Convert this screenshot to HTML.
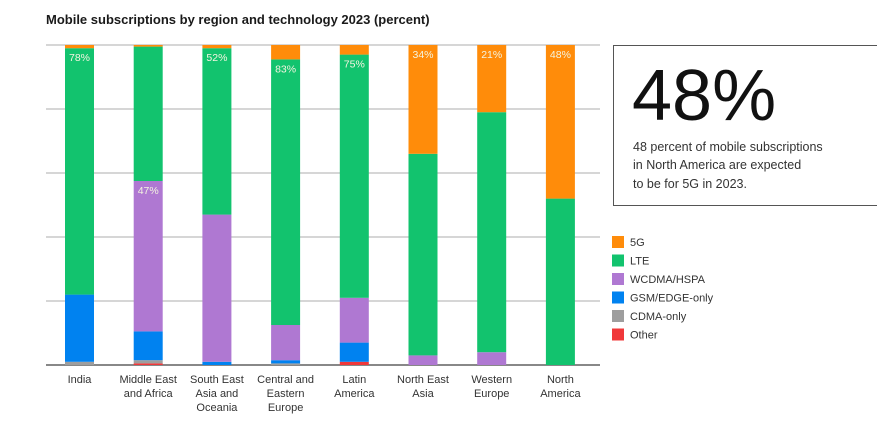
<!DOCTYPE html>
<html><head><meta charset="utf-8"><style>
body{margin:0;background:#fff;font-family:"Liberation Sans",sans-serif;}
</style></head><body>
<svg width="877" height="439" style="display:block">
<text x="46" y="24" font-size="13" font-weight="bold" fill="#1a1a1a">Mobile subscriptions by region and technology 2023 (percent)</text>
<g id="grid"></g><g id="bars"></g><g id="xl"></g>
<rect x="613.5" y="45.5" width="270" height="160" fill="none" stroke="#555" stroke-width="1"/>
<text x="632" y="120" font-size="72" fill="#111">48%</text>
<text font-size="12.5" fill="#333"><tspan x="633" y="151">48 percent of mobile subscriptions</tspan><tspan x="633" y="169">in North America are expected</tspan><tspan x="633" y="188">to be for 5G in 2023.</tspan></text>
<g id="legend"></g>
</svg>
<script>
const categories=[["India"],["Middle East","and Africa"],["South East","Asia and","Oceania"],["Central and","Eastern","Europe"],["Latin","America"],["North East","Asia"],["Western","Europe"],["North","America"]];
const other=[0,0.5,0,0,1,0,0,0];
const cdma=[1,1,0,0.5,0,0,0,0];
const gsm=[21,9,1,1,6,0,0,0];
const wcdma=[0,47,46,11,14,3,4,0];
const lte=[77,42,52,83,76,63,75,52];
const g5=[1,0.5,1,4.5,3,34,21,48];
const labels=["78%","47%","52%","83%","75%","34%","21%","48%"];
const labelSeries=[4,3,4,4,4,5,5,5];
const series=[other,cdma,gsm,wcdma,lte,g5];
const names=["Other","CDMA-only","GSM/EDGE-only","WCDMA/HSPA","LTE","5G"];
const colors=["#f0383a","#9e9e9e","#0082f0","#af78d2","#12c36e","#ff8c0a"];
const gridTicks=[0,20,40,60,80,100];
const NS="http://www.w3.org/2000/svg";
const y=v=>365-v*3.2, x=i=>65+i*68.7, bw=29;
function mk(t,a,p){const e=document.createElementNS(NS,t);for(const k in a)e.setAttribute(k,a[k]);document.getElementById(p).appendChild(e);return e;}
gridTicks.forEach(t=>{const l=mk("line",{x1:46,x2:600,y1:y(t),y2:y(t),stroke:t?"#c8c8c8":"#888","stroke-width":t?1.5:2},"grid");

});
categories.forEach((c,i)=>{let acc=0;series.forEach((s,j)=>{const v=s[i];if(v>0){const r=mk("rect",{x:x(i),y:y(acc+v),width:bw,height:v*3.2,fill:colors[j]},"bars");

}
if(j===labelSeries[i]){const tt=mk("text",{x:x(i)+bw/2,y:y(acc+v)+13,"font-size":10.5,fill:"#f4f4e0","text-anchor":"middle"},"bars");tt.textContent=labels[i];

}
acc+=v;});
const t=mk("text",{"font-size":11,fill:"#333","text-anchor":"middle"},"xl");


c.forEach((ln,k)=>{const sp=document.createElementNS(NS,"tspan");sp.setAttribute("x",x(i)+bw/2);sp.setAttribute("y",383+k*14);sp.textContent=ln;t.appendChild(sp);});});
[5,4,3,2,1,0].forEach((j,k)=>{const r=mk("rect",{x:612,y:236+k*18.5,width:12,height:12,fill:colors[j]},"legend");


const t=mk("text",{x:630,y:246+k*18.5,"font-size":11,fill:"#333"},"legend");t.textContent=names[j];

});
</script>
</body></html>
